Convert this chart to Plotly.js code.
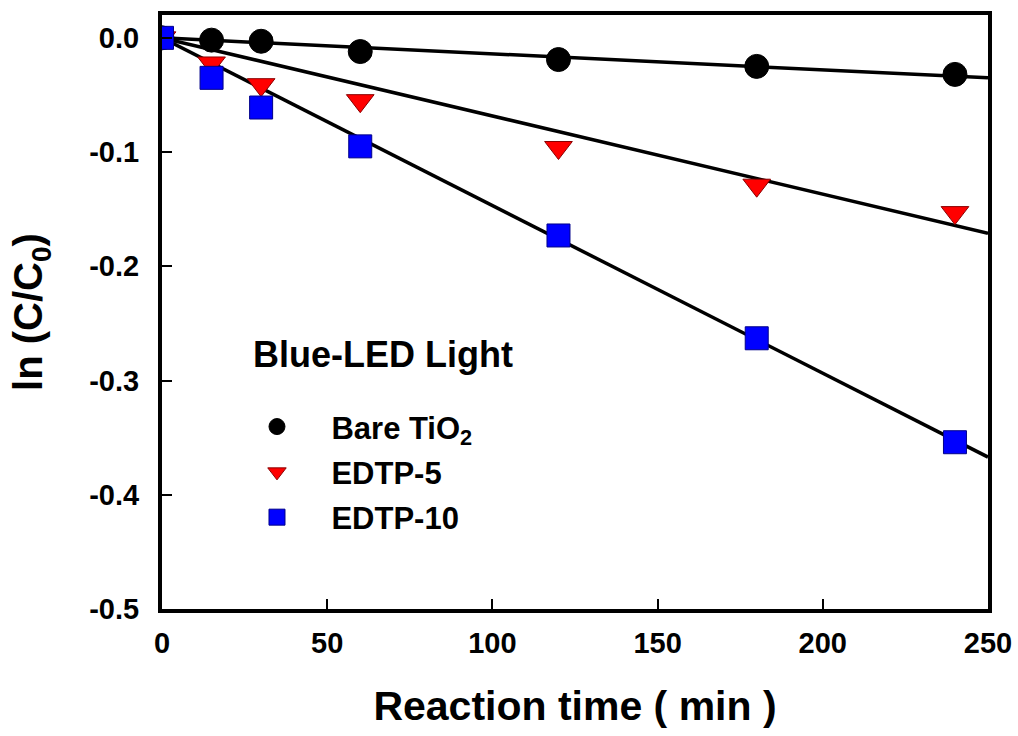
<!DOCTYPE html>
<html>
<head>
<meta charset="utf-8">
<script src="https://cdn.plot.ly/plotly-3.0.1.min.js"></script>
<style>html,body{margin:0;padding:0;background:#fff;}#chart{width:1018px;height:736px;}</style>
</head>
<body>
<div id="chart"></div>
<script>
// Data
const timeMin = [0, 15, 30, 60, 120, 180, 240];
const bareTiO2 = [0, -0.002, -0.003, -0.012, -0.019, -0.025, -0.032];
const edtp5 = [0, -0.022, -0.041, -0.055, -0.096, -0.129, -0.153];
const edtp10 = [0, -0.035, -0.061, -0.095, -0.173, -0.263, -0.354];
// Linear fit lines (end values at 0 and 250 min)
const fitX = [0, 250];
const fitBare = [0, -0.035];
const fitEdtp5 = [0, -0.171];
const fitEdtp10 = [0, -0.367];
const seriesNames = ['Bare TiO<sub>2</sub>', 'EDTP-5', 'EDTP-10'];
const xTicks = [0, 50, 100, 150, 200, 250];
const yTicks = [0.0, -0.1, -0.2, -0.3, -0.4, -0.5];
const yTickText = ['0.0', '-0.1', '-0.2', '-0.3', '-0.4', '-0.5'];

const F = 'Liberation Sans, Arial, sans-serif';
const lineStyle = {color: '#000', width: 3.5};
const pad = '\u00A0\u00A0\u00A0\u00A0';

const traces = [
  {x: fitX, y: fitBare, mode: 'lines', line: lineStyle, showlegend: false, hoverinfo: 'skip'},
  {x: fitX, y: fitEdtp5, mode: 'lines', line: lineStyle, showlegend: false, hoverinfo: 'skip'},
  {x: fitX, y: fitEdtp10, mode: 'lines', line: lineStyle, showlegend: false, hoverinfo: 'skip'},
  {x: timeMin, y: bareTiO2, mode: 'markers', name: pad + seriesNames[0], legendgroup: 'a',
   marker: {symbol: 'circle', size: 24, color: '#000', line: {color: '#000', width: 1}}},
  {x: timeMin, y: edtp5, mode: 'markers', name: pad + seriesNames[1], legendgroup: 'b',
   marker: {symbol: 'triangle-down', size: 24, color: '#ff0000', line: {color: '#8a0000', width: 1}}},
  {x: timeMin, y: edtp10, mode: 'markers', name: pad + seriesNames[2], legendgroup: 'c',
   marker: {symbol: 'square', size: 23, color: '#0000ff', line: {color: '#00008a', width: 1}}}
];

const layout = {
  width: 1018, height: 736,
  margin: {l: 162, r: 30, t: 15, b: 127},
  paper_bgcolor: '#fff', plot_bgcolor: '#fff',
  showlegend: true,
  legend: {x: 0.115, y: 0.352, xanchor: 'left', yanchor: 'top', bgcolor: 'rgba(0,0,0,0)',
           font: {family: F, size: 31, color: '#000', weight: 'bold'},
           traceorder: 'grouped', tracegroupgap: 2, itemsizing: 'trace'},
  xaxis: {
    range: [0, 250], tickvals: xTicks, ticktext: xTicks.map(String),
    ticks: 'inside', ticklen: 10, tickwidth: 2, tickcolor: '#000',
    showline: true, linewidth: 4, linecolor: '#000', mirror: true,
    showgrid: false, zeroline: false, ticklabelstandoff: 5,
    tickfont: {family: F, size: 29, color: '#000', weight: 'bold'},
    title: {text: 'Reaction time ( min )', font: {family: F, size: 41, color: '#000', weight: 'bold'}, standoff: 35}
  },
  yaxis: {
    range: [-0.5, 0.02], tickvals: yTicks, ticktext: yTickText,
    ticks: 'inside', ticklen: 10, tickwidth: 2, tickcolor: '#000',
    showline: true, linewidth: 4, linecolor: '#000', mirror: true,
    showgrid: false, zeroline: false, ticklabelstandoff: 13,
    tickfont: {family: F, size: 29, color: '#000', weight: 'bold'},
    title: {text: 'ln (C/C<sub>0</sub>)', font: {family: F, size: 40, color: '#000', weight: 'bold'}, standoff: 35}
  },
  annotations: [
    {text: 'Blue-LED Light', xref: 'paper', yref: 'paper', x: 0.108, y: 0.429, xanchor: 'left', yanchor: 'middle',
     showarrow: false, font: {family: F, size: 36, color: '#000', weight: 'bold'}}
  ]
};

Plotly.newPlot('chart', traces, layout, {displayModeBar: false, staticPlot: true});
</script>
</body>
</html>
